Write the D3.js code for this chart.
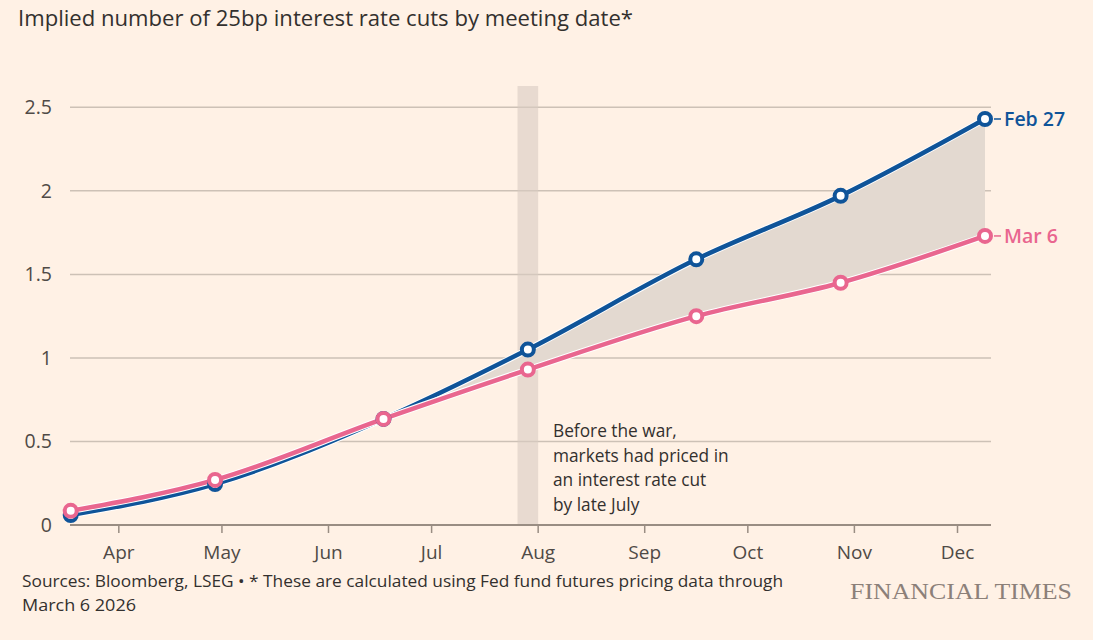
<!DOCTYPE html>
<html>
<head>
<meta charset="utf-8">
<script src="https://cdn.jsdelivr.net/npm/d3@7"></script>
<style>
  body { margin: 0; background: #FFF1E5; }
  svg { display: block; font-family: "Open Sans", sans-serif; }
</style>
</head>
<body>
<svg width="1093" height="640"></svg>
<script>
// meeting dates (FOMC 2026) and implied cuts
var meetingDates = ["2026-03-18","2026-04-29","2026-06-17","2026-07-29","2026-09-16","2026-10-28","2026-12-09"];
var feb27 = [0.06, 0.245, 0.635, 1.05, 1.59, 1.97, 2.43];
var mar6  = [0.085, 0.27, 0.635, 0.93, 1.25, 1.45, 1.73];
var seriesNames = ["Feb 27", "Mar 6"];
var yTicks = [0, 0.5, 1, 1.5, 2, 2.5];
var monthTicks = ["2026-04-01","2026-05-01","2026-06-01","2026-07-01","2026-08-01","2026-09-01","2026-10-01","2026-11-01","2026-12-01"];
var bandDates = ["2026-07-26","2026-08-01"];
var noteLines = ["Before the war,", "markets had priced in", "an interest rate cut", "by late July"];

var parse = d3.timeParse("%Y-%m-%d");
var dates = meetingDates.map(parse);

var svg = d3.select("svg");
var blue = "#0F5499", pink = "#E9668F";

var x = d3.scaleTime()
    .domain([dates[0], dates[dates.length-1]])
    .range([70.7, 985]);
var y = d3.scaleLinear().domain([0, 2.5]).range([525, 107.3]);

var rows = dates.map(function(d, i) { return {date: d, a: feb27[i], b: mar6[i]}; });

// title
svg.append("text")
  .attr("x", 18).attr("y", 26)
  .attr("font-size", "21.5px")
  .attr("fill", "#33302E")
  .attr("textLength", 615).attr("lengthAdjust", "spacingAndGlyphs")
  .text("Implied number of 25bp interest rate cuts by meeting date*");

// gridlines
svg.append("g").selectAll("line")
  .data(yTicks.filter(function(d){ return d > 0; }))
  .enter().append("line")
  .attr("x1", 70).attr("x2", 991)
  .attr("y1", function(d){ return y(d); })
  .attr("y2", function(d){ return y(d); })
  .attr("stroke", "#CDC1B6")
  .attr("stroke-width", 1.5);

// y labels
svg.append("g").selectAll("text")
  .data(yTicks)
  .enter().append("text")
  .attr("x", 52)
  .attr("y", function(d){ return y(d) + 7; })
  .attr("text-anchor", "end")
  .attr("font-size", "19.5px")
  .attr("fill", "#4F4A46")
  .text(function(d){ return d; });

// band for late July
var b0 = parse(bandDates[0]), b1 = parse(bandDates[1]);
svg.append("rect")
  .attr("x", x(b0)).attr("width", x(b1) - x(b0))
  .attr("y", 86).attr("height", 525 - 86)
  .attr("fill", "#D9CCC1")
  .attr("opacity", 0.6);

// area between the two series
var area = d3.area()
  .curve(d3.curveMonotoneX)
  .x(function(d){ return x(d.date); })
  .y0(function(d){ return y(d.b); })
  .y1(function(d){ return y(d.a); });
svg.append("path")
  .datum(rows)
  .attr("d", area)
  .attr("fill", "#E3D9D0");

// x axis baseline + ticks
svg.append("line")
  .attr("x1", 70).attr("x2", 991)
  .attr("y1", 525).attr("y2", 525)
  .attr("stroke", "#998D83").attr("stroke-width", 2);

var ticks = monthTicks.map(parse);
var tg = svg.append("g").selectAll("g")
  .data(ticks).enter().append("g")
  .attr("transform", function(d){ return "translate(" + x(d) + ",0)"; });
tg.append("line")
  .attr("y1", 525).attr("y2", 533)
  .attr("stroke", "#998D83").attr("stroke-width", 1.5);
tg.append("text")
  .attr("y", 559)
  .attr("text-anchor", "middle")
  .attr("font-size", "19px")
  .attr("fill", "#4F4A46")
  .text(d3.timeFormat("%b"));

// lines
var lineA = d3.line().curve(d3.curveMonotoneX)
  .x(function(d){ return x(d.date); }).y(function(d){ return y(d.a); });
var lineB = d3.line().curve(d3.curveMonotoneX)
  .x(function(d){ return x(d.date); }).y(function(d){ return y(d.b); });

var series = [
  {name: seriesNames[0], color: blue, line: lineA, key: "a"},
  {name: seriesNames[1], color: pink, line: lineB, key: "b"}
];

series.forEach(function(s) {
  svg.append("path").datum(rows).attr("d", s.line)
    .attr("fill", "none").attr("stroke", "#FFFFFF").attr("stroke-width", 6.5);
  svg.append("path").datum(rows).attr("d", s.line)
    .attr("fill", "none").attr("stroke", s.color).attr("stroke-width", 4.5);
});

series.forEach(function(s) {
  svg.append("g").selectAll("circle")
    .data(rows).enter().append("circle")
    .attr("cx", function(d){ return x(d.date); })
    .attr("cy", function(d){ return y(d[s.key]); })
    .attr("r", 6)
    .attr("fill", "#FFFFFF")
    .attr("stroke", s.color)
    .attr("stroke-width", 4);

  var last = rows[rows.length-1];
  svg.append("line")
    .attr("x1", x(last.date) + 9).attr("x2", x(last.date) + 16)
    .attr("y1", y(last[s.key])).attr("y2", y(last[s.key]))
    .attr("stroke", s.color).attr("stroke-width", 1.5);
  svg.append("text")
    .attr("x", x(last.date) + 19)
    .attr("y", y(last[s.key]) + 7)
    .attr("font-size", "19.5px")
    .attr("font-weight", 600)
    .attr("fill", s.color)
    .text(s.name);
});

// annotation
svg.append("g").selectAll("text")
  .data(noteLines).enter().append("text")
  .attr("x", 553)
  .attr("y", function(d, i){ return 437 + i * 24.6; })
  .attr("font-size", "17.3px")
  .attr("fill", "#33302E")
  .text(function(d){ return d; });

// footer
svg.append("text")
  .attr("x", 22).attr("y", 587)
  .attr("font-size", "16px")
  .attr("fill", "#33302E")
  .attr("textLength", 761).attr("lengthAdjust", "spacingAndGlyphs")
  .text("Sources: Bloomberg, LSEG \u2022 * These are calculated using Fed fund futures pricing data through");
svg.append("text")
  .attr("x", 22).attr("y", 611)
  .attr("font-size", "16px")
  .attr("fill", "#33302E")
  .attr("textLength", 114).attr("lengthAdjust", "spacingAndGlyphs")
  .text("March 6 2026");

svg.append("text")
  .attr("x", 850).attr("y", 599)
  .attr("font-family", "'Liberation Serif', serif")
  .attr("font-size", "23px")
  .attr("fill", "#8C8079")
  .attr("textLength", 222).attr("lengthAdjust", "spacingAndGlyphs")
  .text("FINANCIAL TIMES");
</script>
</body>
</html>
